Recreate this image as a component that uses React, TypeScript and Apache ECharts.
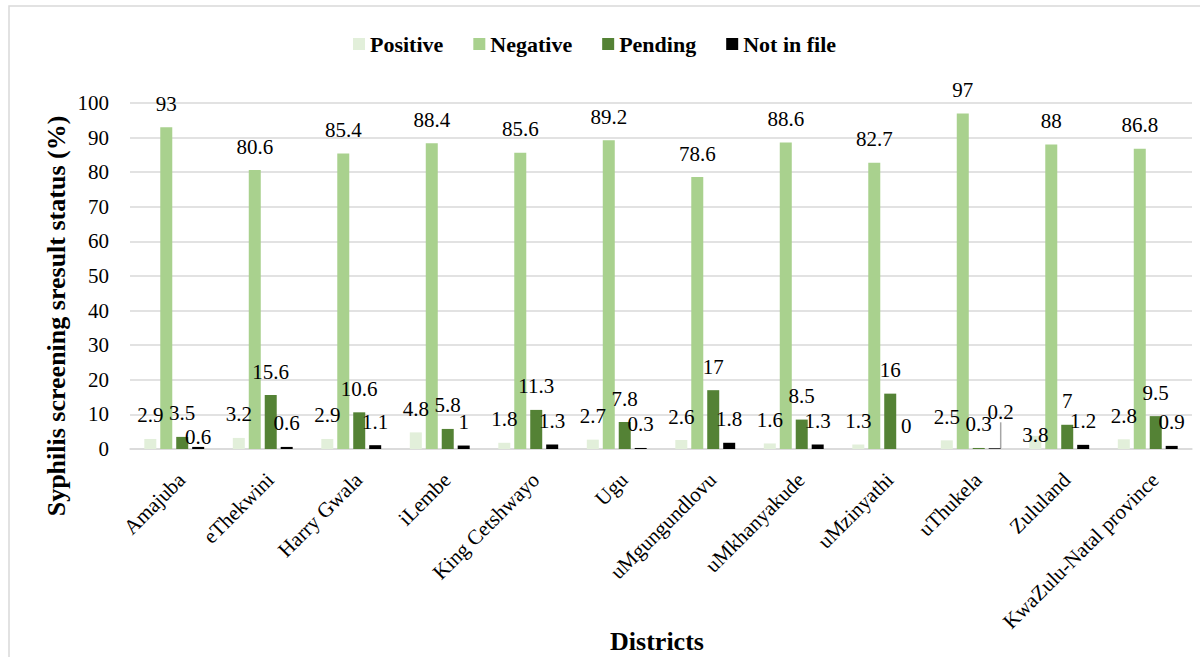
import React, { useEffect, useRef } from "react";
import * as echarts from "echarts";

const districts = [
  "Amajuba",
  "eThekwini",
  "Harry Gwala",
  "iLembe",
  "King Cetshwayo",
  "Ugu",
  "uMgungundlovu",
  "uMkhanyakude",
  "uMzinyathi",
  "uThukela",
  "Zululand",
  "KwaZulu-Natal province",
];
const positive = [2.9, 3.2, 2.9, 4.8, 1.8, 2.7, 2.6, 1.6, 1.3, 2.5, 3.8, 2.8];
const negative = [93, 80.6, 85.4, 88.4, 85.6, 89.2, 78.6, 88.6, 82.7, 97, 88, 86.8];
const pending = [3.5, 15.6, 10.6, 5.8, 11.3, 7.8, 17, 8.5, 16, 0.3, 7, 9.5];
const notInFile = [0.6, 0.6, 1.1, 1, 1.3, 0.3, 1.8, 1.3, 0, 0.2, 1.2, 0.9];

const seriesNames = ["Positive", "Negative", "Pending", "Not in file"];
const seriesColors = ["#e2efda", "#a9d18e", "#548235", "#000000"];

const FONT = '"Liberation Serif", "Times New Roman", serif';

export default function App() {
  const ref = useRef<HTMLDivElement>(null);
  useEffect(() => {
    if (!ref.current) return;
    const chart = echarts.init(ref.current, undefined, { renderer: "svg" });
    const valueSets = [positive, negative, pending, notInFile];
    const labelStyle = {
      show: true,
      position: "top",
      distance: 13,
      fontSize: 21,
      color: "#000",
      fontFamily: FONT,
    };
    chart.setOption({
      animation: false,
      backgroundColor: "#fff",
      textStyle: { fontFamily: FONT },
      legend: {
        left: 348,
        top: 28,
        itemWidth: 12,
        itemHeight: 12,
        itemGap: 30,
        icon: "rect",
        textStyle: { fontSize: 22, fontWeight: "bold", color: "#000", fontFamily: FONT },
        data: seriesNames,
      },
      grid: { left: 130, right: 8, top: 103, bottom: 208, containLabel: false },
      xAxis: {
        type: "category",
        data: districts,
        axisTick: { show: false },
        axisLine: { lineStyle: { color: "#d9d9d9", width: 1.5 } },
        axisLabel: {
          rotate: 45,
          interval: 0,
          fontSize: 21,
          color: "#000",
          fontFamily: FONT,
          margin: 20,
          align: "right",
          verticalAlign: "top",
        },
      },
      yAxis: {
        type: "value",
        min: 0,
        max: 100,
        interval: 10,
        axisLine: { show: false },
        axisTick: { show: false },
        splitLine: { lineStyle: { color: "#d9d9d9", width: 1.5 } },
        axisLabel: { fontSize: 21, color: "#000", fontFamily: FONT, margin: 21 },
      },
      labelLayout: (p: any) => {
        if (p.seriesIndex === 3 && p.dataIndex === 0) return { dy: 14 };
        if (p.seriesIndex === 3 && p.dataIndex === 9) return { dx: 6, dy: -13 };
        if (p.seriesIndex === 0 && p.dataIndex === 10) return { dy: 23 };
        return {};
      },
      series: valueSets.map((vals, si) => ({
        name: seriesNames[si],
        type: "bar",
        barWidth: 12,
        barGap: "33%",
        itemStyle: { color: seriesColors[si] },
        label: labelStyle,
        data: vals.map((v, i) =>
          si === 3 && i === 9
            ? { value: v, labelLine: { show: true, lineStyle: { color: "#a6a6a6", width: 1.5 } } }
            : v
        ),
      })),
      graphic: [
        {
          type: "rect",
          shape: { x: 9, y: 6, width: 1200, height: 700 },
          style: { fill: "none", stroke: "#d9d9d9", lineWidth: 1.5 },
          silent: true,
        },
        {
          type: "text",
          x: 56,
          y: 316,
          rotation: Math.PI / 2,
          style: {
            text: "Syphilis screening sresult status (%)",
            fontSize: 26,
            fontWeight: "bold",
            fontFamily: FONT,
            fill: "#000",
            align: "center",
            verticalAlign: "middle",
          },
        },
        {
          type: "text",
          x: 657,
          y: 641,
          style: {
            text: "Districts",
            fontSize: 26,
            fontWeight: "bold",
            fontFamily: FONT,
            fill: "#000",
            align: "center",
            verticalAlign: "middle",
          },
        },
      ],
    });
    return () => chart.dispose();
  }, []);
  return (
    <div
      ref={ref}
      style={{ position: "fixed", left: 0, top: 0, width: 1200, height: 657 }}
    />
  );
}
